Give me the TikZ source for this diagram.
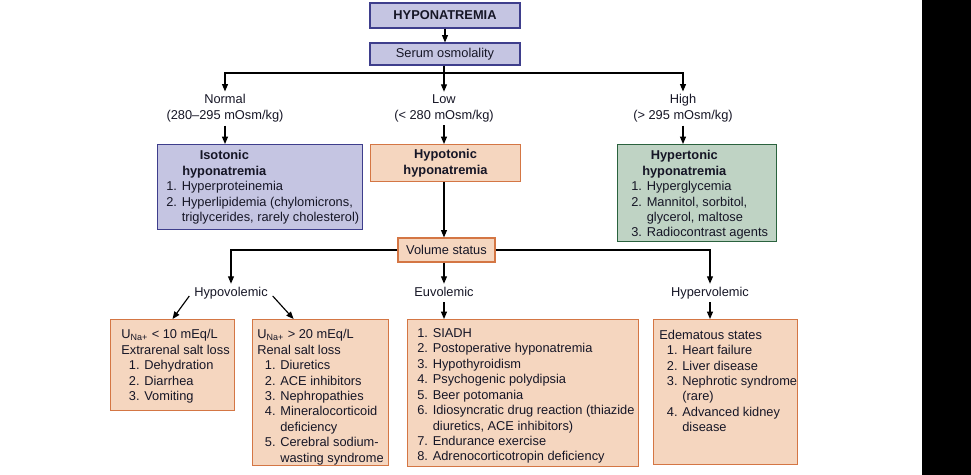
\documentclass[tikz,border=0pt]{standalone}
\usepackage{fontspec}
\setmainfont{Liberation Sans}
\usetikzlibrary{arrows.meta,positioning}
\definecolor{lavfill}{RGB}{197,197,226}
\definecolor{lavedge}{RGB}{62,62,140}
\definecolor{peachfill}{RGB}{245,214,191}
\definecolor{peachedge}{RGB}{212,118,68}
\definecolor{sagefill}{RGB}{191,211,196}
\definecolor{sageedge}{RGB}{42,98,62}
\definecolor{inkc}{RGB}{22,22,38}
\newcommand{\ind}{\hspace*{4.3pt}}
\newcommand{\hng}{\hspace*{4.3pt}\phantom{0. }}

\begin{document}
\begin{tikzpicture}[x=0.02cm,y=-0.02cm,
    font=\fontsize{7.3}{8.8}\selectfont,text=inkc,
    box/.style={draw,line width=0.65pt,inner sep=0pt},
    lav/.style={box,draw=lavedge,fill=lavfill},
    peach/.style={box,draw=peachedge,fill=peachfill},
    sage/.style={box,draw=sageedge,fill=sagefill},
    txt/.style={align=left,inner sep=0pt,anchor=north west},
    lbl/.style={align=center,inner sep=1.5pt,font=\fontsize{7.3}{9.2}\selectfont},
    vlbl/.style={lbl,text height=5.6pt,text depth=1.6pt},
    arr/.style={-{Triangle[length=4.2pt,width=3.4pt]},line width=0.65pt}
  ]
    \fill[white] (0,0) rectangle (971,475);
    \fill[black] (922,0) rectangle (971,475);
    \useasboundingbox (0,0) rectangle (971,475);

    % top of the tree
    \node[lav,minimum width=3cm,minimum height=0.5cm] (title) at (445,15.5)
      {\textbf{HYPONATREMIA}};
    \node[lav,minimum width=3cm,minimum height=0.44cm] (serum) at (445,54)
      {Serum osmolality};
    \coordinate (osm) at (444,73);

    \node[lbl] (normal) at (225,108.5) {Normal\\(280--295 mOsm/kg)};
    \node[lbl] (low) at (444,108.5) {Low\\(< 280 mOsm/kg)};
    \node[lbl] (high) at (683,108.5) {High\\(> 295 mOsm/kg)};

    % tonicity boxes
    \node[lav,minimum width=4.1cm,minimum height=1.7cm,anchor=north west] (iso)
      at (157,144) {};
    \node[txt] (isotxt) at (166,150)
      {\makebox[2.32cm]{\textbf{Isotonic}}\\
       \makebox[2.32cm]{\textbf{hyponatremia}}\\
       1. Hyperproteinemia\\
       2. Hyperlipidemia (chylomicrons,\\
       \phantom{2. }triglycerides, rarely cholesterol)};
    \node[peach,minimum width=3cm,minimum height=0.74cm,anchor=north west,
      align=center] (hypot) at (370,144)
      {\textbf{Hypotonic}\\\textbf{hyponatremia}};
    \node[sage,minimum width=3.18cm,minimum height=1.94cm,anchor=north west] (hyper)
      at (617,144) {};
    \node[txt] (hypertxt) at (631,150)
      {\makebox[2.12cm]{\textbf{Hypertonic}}\\
       \makebox[2.12cm]{\textbf{hyponatremia}}\\
       1. Hyperglycemia\\
       2. Mannitol, sorbitol,\\
       \phantom{2. }glycerol, maltose\\
       3. Radiocontrast agents};

    % volume status
    \node[peach,minimum width=1.94cm,minimum height=0.48cm] (vol) at (446.5,250)
      {Volume status};
    \node[vlbl] (hypovl) at (231,293) {Hypovolemic};
    \node[vlbl] (euvl) at (444,293) {Euvolemic};
    \node[vlbl] (hypervl) at (710,293) {Hypervolemic};

    \node[peach,minimum width=2.48cm,minimum height=1.82cm,anchor=north west] (ulow)
      at (110,319) {};
    \node[txt] (ulowtxt) at (121,329)
      {U\textsubscript{Na+} < 10 mEq/L\\
       Extrarenal salt loss\\
       \ind 1. Dehydration\\
       \ind 2. Diarrhea\\
       \ind 3. Vomiting};
    \node[peach,minimum width=2.72cm,minimum height=2.92cm,anchor=north west] (uhigh)
      at (252,319) {};
    \node[txt] (uhightxt) at (257,329)
      {U\textsubscript{Na+} > 20 mEq/L\\
       Renal salt loss\\
       \ind 1. Diuretics\\
       \ind 2. ACE inhibitors\\
       \ind 3. Nephropathies\\
       \ind 4. Mineralocorticoid\\
       \hng deficiency\\
       \ind 5. Cerebral sodium-\\
       \hng wasting syndrome};
    \node[peach,minimum width=4.62cm,minimum height=2.94cm,anchor=north west] (euvol)
      at (407,319) {};
    \node[txt] (euvoltxt) at (417,328)
      {1. SIADH\\
       2. Postoperative hyponatremia\\
       3. Hypothyroidism\\
       4. Psychogenic polydipsia\\
       5. Beer potomania\\
       6. Idiosyncratic drug reaction (thiazide\\
       \phantom{6. }diuretics, ACE inhibitors)\\
       7. Endurance exercise\\
       8. Adrenocorticotropin deficiency};
    \node[peach,minimum width=2.88cm,minimum height=2.9cm,anchor=north west] (hypervol)
      at (653,319) {};
    \node[txt] (hypervoltxt) at (659,329.5)
      {Edematous states\\
       \ind 1. Heart failure\\
       \ind 2. Liver disease\\
       \ind 3. Nephrotic syndrome\\
       \hng (rare)\\
       \ind 4. Advanced kidney\\
       \hng disease};

    % connectors
    \draw[arr] (title) -- (serum);
    \draw[line width=0.65pt] (serum.south -| osm) -- (osm);
    \draw[arr] (osm) -| (normal);
    \draw[arr] (osm) -- (low);
    \draw[arr] (osm) -| (high);
    \draw[arr] (normal) -- (normal |- iso.north);
    \draw[arr] (low) -- (low |- hypot.north);
    \draw[arr] (high) -- (high |- hyper.north);
    \draw[arr] (low |- hypot.south) -- (low |- vol.north);
    \draw[arr] (vol) -| (hypovl);
    \draw[arr] (euvl |- vol.south) -- (euvl);
    \draw[arr] (vol) -| (hypervl);
    \draw[arr] ([shift={(-2,3)}]hypovl.west) -- (ulow.north);
    \draw[arr] ([shift={(2,3)}]hypovl.east) -- ([shift={(-27,0)}]uhigh.north);
    \draw[arr] (euvl) -- (euvl |- euvol.north);
    \draw[arr] (hypervl) -- (hypervl |- hypervol.north);
  \end{tikzpicture}
\end{document}
